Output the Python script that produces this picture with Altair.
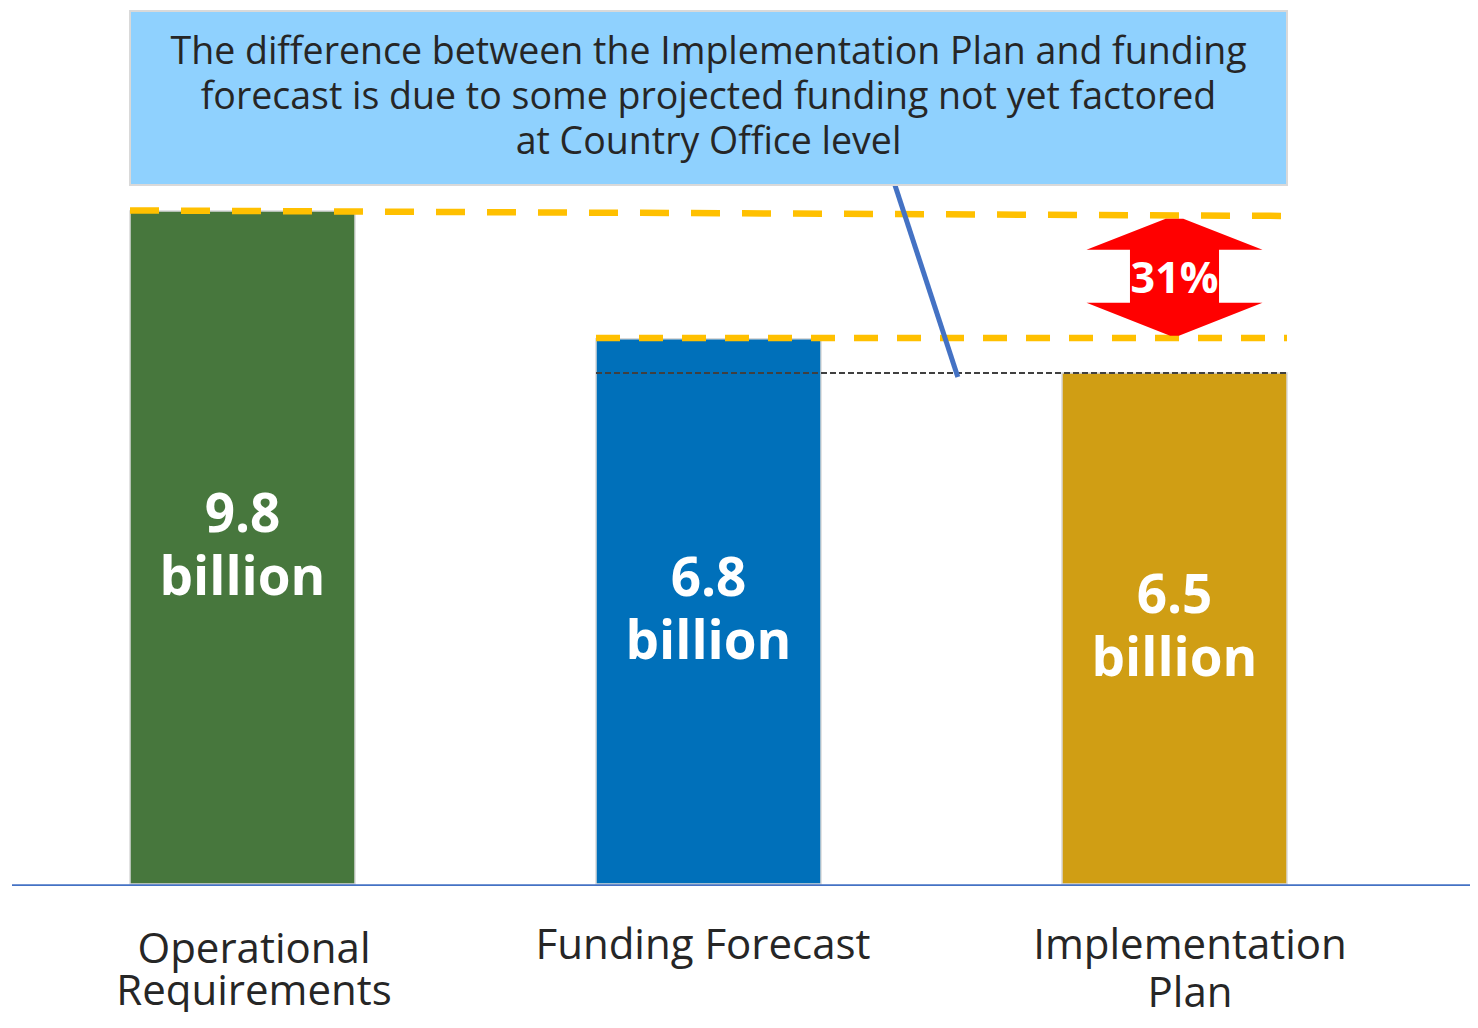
import altair as alt
import pandas as pd

# ---------------- data ----------------
categories = ["Operational Requirements", "Funding Forecast", "Implementation Plan"]
category_text = ["Operational\nRequirements", "Funding Forecast", "Implementation\nPlan"]
bar_heights = [9.8, 7.94, 7.44]          # drawn bar heights (the picture is not to scale)
value_labels = ["9.8 ", "6.8 ", "6.5 "]
unit_label = "billion"
bar_colors = ["#47773D", "#0070BA", "#D09E14"]
gap_label = "31%"
callout_text = ("The difference between the Implementation Plan and funding\n"
                "forecast is due to some projected funding not yet factored\n"
                "at Country Office level")

# ---------------- layout ----------------
W, H = 1462, 1004
STEP = 466.0            # px per category step
X0 = 234.5              # px of first bar centre
K = 673 / 9.8           # px per unit in y
BASE = 876.0            # px of the baseline
XMIN, XMAX = -X0 / STEP, (W - X0) / STEP
YMIN, YMAX = -(H - BASE) / K, BASE / K
HW = 112.5 / STEP       # half bar width

def page_y(py):
    return (884 - py) / K

xs = alt.Scale(domain=[XMIN, XMAX], nice=False, zero=False)
ys = alt.Scale(domain=[YMIN, YMAX], nice=False, zero=False)
FONT = "Open Sans"

pos = list(range(len(categories)))
bars = pd.DataFrame({
    "cat": categories,
    "pos": pos,
    "h": bar_heights,
    "zero": [0.0] * 3,
    "color": bar_colors,
    "label": [v + "\n" + unit_label for v in value_labels],
})
bars["x0"] = bars["pos"] - HW
bars["x1"] = bars["pos"] + HW
bars["first"] = bars["h"] / 2 + 31.5 / K

def X(f):
    return alt.X(f, scale=xs, axis=None, title=None)

def Y(f):
    return alt.Y(f, scale=ys, axis=None, title=None)

bar_layer = alt.Chart(bars).mark_rect(stroke="#d9d9d9", strokeWidth=1.5).encode(
    x=X("x0:Q"), x2="x1:Q", y=Y("zero:Q"), y2="h:Q",
    color=alt.Color("color:N", scale=None),
)

bar_text = alt.Chart(bars).mark_text(
    font=FONT, fontSize=53, fontWeight="bold", color="white",
    lineBreak="\n", lineHeight=63, baseline="middle", align="center",
).encode(x=X("pos:Q"), y=Y("first:Q"), text="label:N")

# baseline axis line
axis_df = pd.DataFrame({"x": [(12 - 242.5) / STEP], "x2": [XMAX], "y": [-0.015]})
axis_line = alt.Chart(axis_df).mark_rule(color="#4472C4", strokeWidth=1.8).encode(
    x=X("x:Q"), x2="x2:Q", y=Y("y:Q"))

# reference lines
top_ref = pd.DataFrame({"x": [-HW, 2 + HW], "y": [9.808, 9.728]})
gold1 = alt.Chart(top_ref).mark_line(color="#FFC000", strokeWidth=6.5,
                                     strokeDash=[29, 22], strokeCap="butt").encode(
    x=X("x:Q"), y=Y("y:Q"))

mid_ref = pd.DataFrame({"x": [1 - HW, 2 + HW], "y": [bar_heights[1] + 0.01] * 2})
gold2 = alt.Chart(mid_ref).mark_line(color="#FFC000", strokeWidth=6.5,
                                     strokeDash=[24, 19], strokeCap="butt").encode(
    x=X("x:Q"), y=Y("y:Q"))

low_ref = pd.DataFrame({"x": [1 - HW], "x2": [2 + HW], "y": [bar_heights[2]]})
black_dash = alt.Chart(low_ref).mark_rule(color="#404040", strokeWidth=2,
                                          strokeDash=[6, 3]).encode(
    x=X("x:Q"), x2="x2:Q", y=Y("y:Q"))

# callout box
box_df = pd.DataFrame({"x": [-HW], "x2": [2 + HW], "y": [page_y(185)], "y2": [page_y(11)]})
box = alt.Chart(box_df).mark_rect(fill="#8FD1FE", stroke="#d9d9d9", strokeWidth=2).encode(
    x=X("x:Q"), x2="x2:Q", y=Y("y:Q"), y2="y2:Q")

box_text_df = pd.DataFrame({"x": [1.0], "y": [page_y(53)], "t": [callout_text]})
box_text = alt.Chart(box_text_df).mark_text(
    font=FONT, fontSize=37.5, color="#262626", lineBreak="\n", lineHeight=45,
    baseline="middle", align="center",
).encode(x=X("x:Q"), y=Y("y:Q"), text="t:N")

conn_df = pd.DataFrame({"x": [1.400, 1.535], "y": [page_y(185), page_y(377)]})
connector = alt.Chart(conn_df).mark_line(color="#4472C4", strokeWidth=5).encode(
    x=X("x:Q"), y=Y("y:Q"))

# double-headed arrow
ARROW = ("M-0.1,-0.665L0.1,-0.665L1,-0.3125L0.506,-0.3125L0.506,0.29L1,0.29"
         "L0.05,0.665L-0.05,0.665L-1,0.29L-0.506,0.29L-0.506,-0.3125L-1,-0.3125Z")
arrow_df = pd.DataFrame({"x": [2.0], "y": [(9.728 + bar_heights[1]) / 2], "t": [gap_label]})
arrow = alt.Chart(arrow_df).mark_point(
    shape=ARROW, filled=True, color="#FF0000", opacity=1, size=176 * 176, strokeWidth=0,
).encode(x=X("x:Q"), y=Y("y:Q"))
arrow_text = alt.Chart(arrow_df).mark_text(
    font=FONT, fontSize=43, fontWeight="bold", color="white", baseline="middle", align="center",
    dy=3,
).encode(x=X("x:Q"), y=Y("y:Q"), text="t:N")

# category labels (y is the first line)
cat_layers = []
cat_y = [page_y(950), page_y(946), page_y(946)]
cat_dx = [11.5, -5.5, 15.5]
cat_lh = [42, 50, 48]
for i, t in enumerate(category_text):
    d = pd.DataFrame({"x": [pos[i]], "y": [cat_y[i]], "t": [t]})
    cat_layers.append(alt.Chart(d).mark_text(
        font=FONT, fontSize=42, color="#262626", lineBreak="\n", lineHeight=cat_lh[i],
        baseline="middle", align="center", dx=cat_dx[i],
    ).encode(x=X("x:Q"), y=Y("y:Q"), text="t:N"))

chart = alt.layer(
    bar_layer, axis_line, gold1, gold2, black_dash, connector, box, box_text,
    bar_text, arrow, arrow_text, *cat_layers,
).properties(
    width=W, height=H, padding=0,
    autosize=alt.AutoSizeParams(type="none"),
).configure_view(stroke=None)

chart.save("out.html", embed_options={"renderer": "svg", "actions": False})
